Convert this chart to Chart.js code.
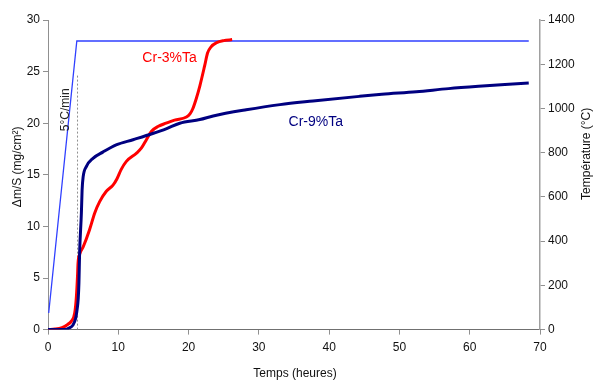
<!DOCTYPE html>
<html>
<head>
<meta charset="utf-8">
<script src="https://cdn.jsdelivr.net/npm/chart.js@4"></script>
<style>
html,body{margin:0;padding:0;background:#fff;}
#wrap{width:595px;height:381px;}
</style>
</head>
<body>
<div id="wrap"><canvas id="c" width="595" height="381"></canvas></div>
<script>
// Time (hours) / mass gain (mg/cm²) for Cr-3%Ta
const cr3Time = [0,1,2,2.8,3.3,3.8,4.04,4.2,4.27,4.5,5.0,5.9,6.65,7.35,8.3,9.25,9.8,10.4,11.15,12.6,13.3,14.0,14.7,15.7,16.8,18,19.7,20.2,20.6,21.1,21.6,22.3,22.7,23.2,24.0,25,26.2];
const cr3Mass = [0,0.05,0.2,0.5,0.8,1.6,3.2,5.2,6.4,7.3,8.0,9.65,11.3,12.4,13.4,14.0,14.6,15.5,16.3,17.1,17.6,18.4,19.2,19.7,20.0,20.3,20.6,20.9,21.4,22.4,23.6,25.6,26.8,27.4,27.8,28.0,28.1];
// Time (hours) / mass gain (mg/cm²) for Cr-9%Ta
const cr9Time = [0,2.4,3.0,3.56,3.94,4.13,4.3,4.4,4.5,4.75,4.85,5.0,5.45,6.4,7.8,9.7,12.1,14.9,16.8,18.75,21.6,23.5,28.2,33,37.7,44.3,47.5,52.4,57,61.8,65,68.4];
const cr9Mass = [0,0,0.15,0.45,1.1,1.9,3,4.5,7.5,11.3,13.5,14.8,15.8,16.6,17.2,17.9,18.4,19.0,19.45,20.0,20.35,20.7,21.3,21.8,22.15,22.6,22.8,23.05,23.35,23.6,23.75,23.9];
// Temperature programme (°C)
const tempTime = [0.1,4.1,68.4];
const tempValue = [75,1305,1305];
// Start of isothermal stage marker
const markerTime = [4.2,4.2];
const markerMass = [0,24.8];
// Tick labels
const xTicks = [0,10,20,30,40,50,60,70];
const yTicks = [0,5,10,15,20,25,30];
const y2Ticks = [0,200,400,600,800,1000,1200,1400];
// Labels
const labels = [
  {text:'Cr-3%Ta', x:17.3, y:26.3, color:'#ff0000', size:14, rot:0},
  {text:'Cr-9%Ta', x:38.1, y:20.1, color:'#000080', size:14, rot:0},
  {text:'5°C/min', x:2.45, y:21.3, color:'#222', size:12, rot:-Math.PI/2}
];

const zip = (a,b)=>a.map((v,i)=>({x:v,y:b[i]}));
const font = {family:'"Liberation Sans", Arial, sans-serif', size:12};
const plain = v => String(v);

const textPlugin = {
  id:'texts',
  afterDatasetsDraw(chart){
    const ctx = chart.ctx, xs = chart.scales.x, ys = chart.scales.y, a = chart.chartArea;
    ctx.save();
    ctx.textAlign='center'; ctx.textBaseline='middle';
    labels.forEach(l=>{
      ctx.save();
      ctx.font = l.size+'px "Liberation Sans", Arial, sans-serif';
      ctx.fillStyle = l.color;
      ctx.translate(xs.getPixelForValue(l.x), ys.getPixelForValue(l.y));
      ctx.rotate(l.rot);
      ctx.fillText(l.text,0,0);
      ctx.restore();
    });
    ctx.font = '12px "Liberation Sans", Arial, sans-serif';
    ctx.fillStyle = '#111';
    const midY = (a.top+a.bottom)/2;
    ctx.save(); ctx.translate(18, midY-8); ctx.rotate(-Math.PI/2); ctx.fillText('Δm/S (mg/cm²)',0,0); ctx.restore();
    ctx.save(); ctx.translate(587, midY-21); ctx.rotate(-Math.PI/2); ctx.fillText('Température (°C)',0,0); ctx.restore();
    ctx.fillText('Temps (heures)', (a.left+a.right)/2+1, 374);
    ctx.restore();
  }
};

new Chart(document.getElementById('c'), {
  type:'scatter',
  data:{datasets:[
    {data:zip(cr9Time,cr9Mass), yAxisID:'y', showLine:true, borderColor:'#000080', borderWidth:3, pointRadius:0, cubicInterpolationMode:'monotone'},
    {data:zip(cr3Time,cr3Mass), yAxisID:'y', showLine:true, borderColor:'#ff0000', borderWidth:3, pointRadius:0, cubicInterpolationMode:'monotone'},
    {data:zip(tempTime,tempValue), yAxisID:'y2', showLine:true, borderColor:'#3040ff', borderWidth:1.3, pointRadius:0},
    {data:zip(markerTime,markerMass), yAxisID:'y', showLine:true, borderColor:'#909090', borderWidth:1, borderDash:[2,2], pointRadius:0}
  ]},
  options:{
    responsive:false, animation:false,
    layout:{padding:{top:20,left:0,right:0,bottom:0}},
    plugins:{legend:{display:false}, tooltip:{enabled:false}},
    scales:{
      x:{type:'linear', min:0, max:70,
        afterBuildTicks:s=>{s.ticks = xTicks.map(v=>({value:v}));},
        afterFit:s=>{s.height = 51.4;},
        ticks:{font, color:'#111', padding:6, callback:plain},
        grid:{display:true, drawOnChartArea:false, drawTicks:true, tickLength:5, color:'#909090'},
        border:{color:'#707070', width:1}},
      y:{position:'left', min:0, max:30,
        afterBuildTicks:s=>{s.ticks = yTicks.map(v=>({value:v}));},
        afterFit:s=>{s.width = 48;},
        ticks:{font, color:'#111', padding:3, callback:plain},
        grid:{display:true, drawOnChartArea:false, drawTicks:true, tickLength:5, color:'#909090'},
        border:{color:'#909090', width:1}},
      y2:{position:'right', min:0, max:1400,
        afterBuildTicks:s=>{s.ticks = y2Ticks.map(v=>({value:v}));},
        afterFit:s=>{s.width = 55;},
        ticks:{font, color:'#111', padding:3, callback:plain},
        grid:{display:true, drawOnChartArea:false, drawTicks:true, tickLength:5, color:'#909090'},
        border:{color:'#a0a0a0', width:1.5}}
    }
  },
  plugins:[textPlugin]
});
</script>
</body>
</html>
